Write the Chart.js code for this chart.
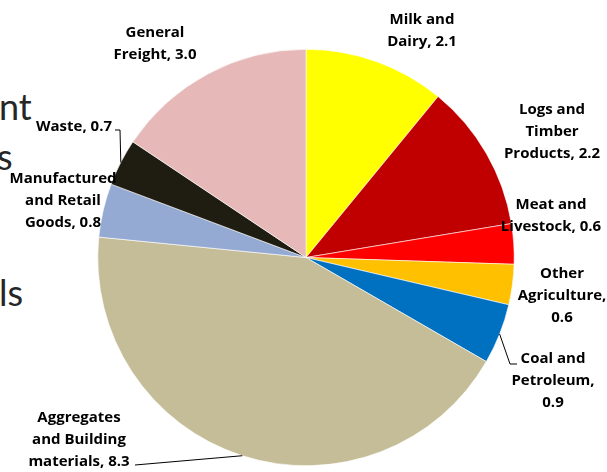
<!DOCTYPE html>
<html>
<head>
<meta charset="utf-8">
<script src="https://cdn.jsdelivr.net/npm/chart.js@4"></script>
<style>
  html, body { margin: 0; padding: 0; background: #fff; }
  #wrap { position: relative; width: 607px; height: 472px; overflow: hidden; }
  #chart { position: absolute; left: 0; top: 0; }
  .bg { position: absolute; font-family: Lato, "Open Sans", sans-serif; font-size: 36px; color: #262626; line-height: 1; }
</style>
</head>
<body>
<div id="wrap">
  <div class="bg" style="left:-1px; top:88px;">nt</div>
  <div class="bg" style="left:-3px; top:138px;">s</div>
  <div class="bg" style="left:-1px; top:274px;">ls</div>
  <canvas id="chart" width="607" height="472"></canvas>
</div>
<script>
(function () {
    "use strict";

    var categories = [
        ["Milk and", "Dairy, 2.1"],
        ["Logs and", "Timber", "Products, 2.2"],
        ["Meat and", "Livestock, 0.6"],
        ["Other", "Agriculture,", "0.6"],
        ["Coal and", "Petroleum,", "0.9"],
        ["Aggregates", "and Building", "materials, 8.3"],
        ["Manufactured", "and Retail", "Goods, 0.8"],
        ["Waste, 0.7"],
        ["General", "Freight, 3.0"]
    ];
    var tonnage = [2.1, 2.2, 0.6, 0.6, 0.9, 8.3, 0.8, 0.7, 3.0];
    var colors = ["#FFFF00", "#C00000", "#FF0000", "#FFC000", "#0070C0",
                  "#C4BD97", "#95AAD2", "#1F1C12", "#E6B9B8"];

    // label text placement: centre x, first line y, alignment, optional leader end
    var labelLayout = [
        { x: 422, y: 20, align: "center" },
        { x: 552, y: 110, align: "center" },
        { x: 551, y: 205, align: "center" },
        { x: 562, y: 274, align: "center" },
        { x: 553, y: 359, align: "center", leader: [[510, 364], [517, 364]] },
        { x: 79, y: 418, align: "center", leader: [[135, 465]] },
        { x: 63, y: 179, align: "center" },
        { x: 112, y: 127, align: "right", leader: [[120, 130], [115, 130]] },
        { x: 155, y: 33, align: "center" }
    ];

    var labelPlugin = {
        id: "sliceLabels",
        afterDraw: function (chart) {
            var ctx = chart.ctx;
            var arcs = chart.getDatasetMeta(0).data;
            ctx.save();
            ctx.font = "bold 15px 'Open Sans', sans-serif";
            ctx.fillStyle = "#000";
            ctx.textBaseline = "middle";
            labelLayout.forEach(function (pos, i) {
                var lines = categories[i];
                ctx.textAlign = pos.align;
                lines.forEach(function (line, j) {
                    ctx.fillText(line, pos.x, pos.y + j * 22);
                });
                if (pos.leader) {
                    var arc = arcs[i];
                    var mid = (arc.startAngle + arc.endAngle) / 2;
                    var sx = arc.x + Math.cos(mid) * arc.outerRadius;
                    var sy = arc.y + Math.sin(mid) * arc.outerRadius;
                    ctx.beginPath();
                    ctx.strokeStyle = "#000";
                    ctx.lineWidth = 1;
                    ctx.moveTo(sx, sy);
                    pos.leader.forEach(function (p) { ctx.lineTo(p[0], p[1]); });
                    ctx.stroke();
                }
            });
            ctx.restore();
        }
    };

    new Chart(document.getElementById("chart"), {
        type: "pie",
        data: {
            labels: categories.map(function (c) { return c.join(" "); }),
            datasets: [{
                data: tonnage,
                backgroundColor: colors,
                borderColor: "#ffffff",
                borderWidth: 0.6
            }]
        },
        options: {
            responsive: false,
            animation: false,
            layout: { padding: { top: 49, bottom: 6, left: 5, right: 0 } },
            plugins: {
                legend: { display: false },
                tooltip: { enabled: false }
            }
        },
        plugins: [labelPlugin]
    });
})();
</script>
</body>
</html>
